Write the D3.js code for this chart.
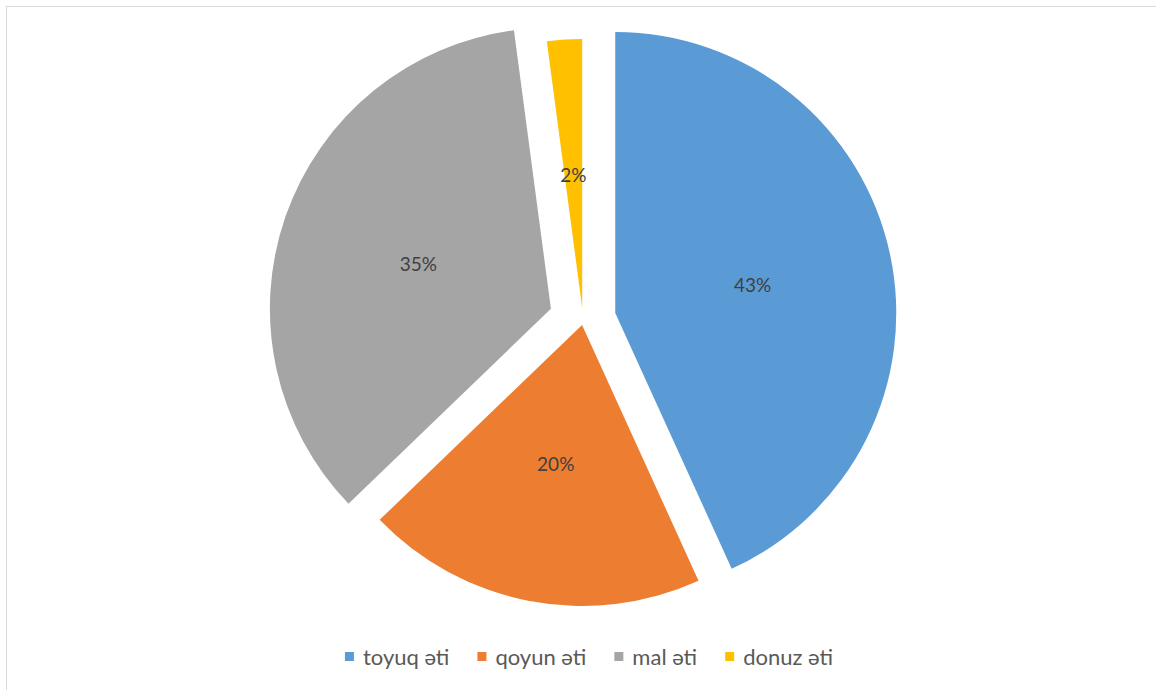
<!DOCTYPE html>
<html>
<head>
<meta charset="utf-8">
<script src="https://cdn.jsdelivr.net/npm/d3@7"></script>
<style>
  body { margin: 0; background: #fff; }
  svg { display: block; font-family: Lato, "Open Sans", sans-serif; }
</style>
</head>
<body>
<svg id="pie-chart" width="1156" height="690"></svg>
<script>
// data
let categories = ["toyuq əti", "qoyun əti", "mal əti", "donuz əti"]
let shares = [43.2, 19.6, 35.1, 2.1]
let colors = ["#5B9BD5", "#ED7D31", "#A5A5A5", "#FFC000"]

// how far each slice is pulled out, and its radius
let explode = { "toyuq əti": 33, "qoyun əti": 5, "mal əti": 34, "donuz əti": 12 }
let radii = { "toyuq əti": 281, "qoyun əti": 281, "mal əti": 281, "donuz əti": 269 }

let width = 1156
let height = 690
let cx = 583, cy = 320

let svg = d3.select("#pie-chart")

// chart area border (right and bottom edges fall outside the picture)
svg.append("rect")
    .attr("x", 6.5)
    .attr("y", 6.5)
    .attr("width", width + 20)
    .attr("height", height + 20)
    .style("fill", "none")
    .style("stroke", "#d9d9d9")
    .style("stroke-width", 1)

let data = categories.map((c, i) => ({ name: c, value: shares[i], color: colors[i] }))
let total = d3.sum(shares)

let pie = d3.pie()
    .sort(null)
    .value(d => d.value)

let arcs = pie(data)

let color = d3.scaleOrdinal().domain(categories).range(colors)
let pct = d3.format(".0%")

let g = svg.append("g").attr("transform", `translate(${cx}, ${cy})`)

let slices = g.selectAll(".slice")
    .data(arcs)
    .join("g")
    .attr("class", "slice")
    .attr("transform", d => {
        let mid = (d.startAngle + d.endAngle) / 2
        let off = explode[d.data.name]
        return `translate(${off * Math.sin(mid)}, ${-off * Math.cos(mid)})`
    })

slices.append("path")
    .attr("d", d => d3.arc().innerRadius(0).outerRadius(radii[d.data.name])(d))
    .style("fill", d => color(d.data.name))
    .style("stroke", "none")

slices.append("text")
    .attr("transform", d => {
        let c = d3.arc().innerRadius(0).outerRadius(radii[d.data.name]).centroid(d)
        return `translate(${c[0]}, ${c[1]})`
    })
    .attr("text-anchor", "middle")
    .attr("dy", "0.45em")
    .style("font-size", "19px")
    .style("fill", "#404040")
    .text(d => pct(d.data.value / total))

// legend
let legend = svg.append("g").attr("class", "legend")
let items = legend.selectAll(".item")
    .data(categories)
    .join("g")
    .attr("class", "item")

items.append("rect")
    .attr("width", 9)
    .attr("height", 9)
    .attr("y", -5)
    .style("fill", d => color(d))

items.append("text")
    .attr("x", 18)
    .attr("dy", "0.35em")
    .style("font-size", "22px")
    .style("fill", "#595959")
    .text(d => d)

let xpos = 0
items.each(function() {
    let w = this.getBBox().width
    d3.select(this).attr("data-x", xpos)
    xpos += w + 28
})
let legendWidth = xpos - 28
items.attr("transform", function() {
    return `translate(${+d3.select(this).attr("data-x")}, 0)`
})
legend.attr("transform", `translate(${(width - legendWidth) / 2 + 11}, 657)`)
</script>
</body>
</html>
